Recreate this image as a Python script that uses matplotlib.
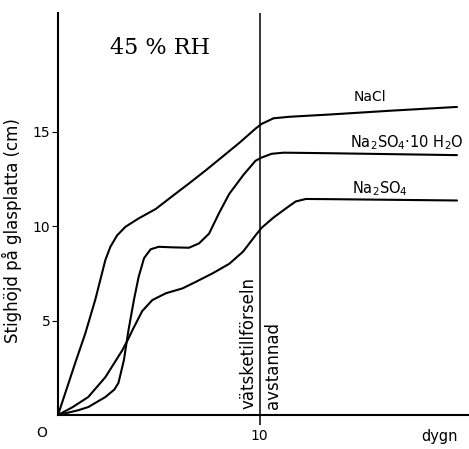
import matplotlib
matplotlib.use("Agg")
import matplotlib.pyplot as plt

# Rise height on glass plate (cm) versus time (days), 45 % RH
nacl_x = [0, 0.9, 1.35, 1.85, 2.35, 2.6, 2.93, 3.35, 4.0, 4.85, 5.7, 6.5, 7.35, 8.2, 9.0, 9.8,
          10.1, 10.7, 11.5, 13.5, 16.5, 19.8]
nacl_y = [0, 2.9, 4.3, 6.1, 8.2, 8.9, 9.5, 9.96, 10.4, 10.9, 11.6, 12.25, 12.96, 13.7, 14.4, 15.15,
          15.4, 15.7, 15.78, 15.9, 16.1, 16.3]

deca_x = [0, 1.0, 1.5, 2.35, 2.8, 3.0, 3.27, 3.5, 3.77, 4.0, 4.27, 4.6, 5.0, 5.7, 6.5, 7.0, 7.5,
          8.0, 8.5, 9.2, 9.8, 10.1, 10.6, 11.2, 13.5, 19.8]
deca_y = [0, 0.25, 0.42, 0.95, 1.35, 1.7, 2.9, 4.5, 6.1, 7.3, 8.3, 8.77, 8.9, 8.87, 8.85, 9.08, 9.6,
          10.7, 11.7, 12.7, 13.45, 13.62, 13.82, 13.88, 13.85, 13.75]

anh_x = [0, 0.7, 1.5, 2.35, 3.2, 3.5, 3.7, 4.18, 4.68, 5.35, 6.18, 6.85, 7.68, 8.5, 9.18, 9.8,
         10.1, 10.7, 11.4, 11.8, 12.3, 13.5, 19.8]
anh_y = [0, 0.4, 0.95, 2.0, 3.44, 4.05, 4.5, 5.5, 6.08, 6.44, 6.7, 7.05, 7.5, 8.0, 8.64, 9.5,
         9.9, 10.45, 11.0, 11.3, 11.43, 11.42, 11.35]

y_ticks = [5, 10, 15]
y_tick_labels = ["5", "10", "15"]
x_ticks = [10]
x_tick_labels = ["10"]

px_per_day = 20.15
px_per_cm = 18.9

fig = plt.figure(figsize=(4.69, 4.49), dpi=100)
ax = fig.add_axes([58 / 469, 34 / 449, 411 / 469, 402 / 449])

lw = 1.5
for xs, ys in ((nacl_x, nacl_y), (deca_x, deca_y), (anh_x, anh_y)):
    ax.plot(xs, ys, color="black", lw=lw, solid_joinstyle="round", solid_capstyle="round")

ax.axvline(10, color="black", lw=1.1)

ax.set_xlim(0, 411 / px_per_day)
ax.set_ylim(0, 402 / px_per_cm)

for side in ("top", "right"):
    ax.spines[side].set_visible(False)
for side in ("left", "bottom"):
    ax.spines[side].set_linewidth(1.5)

ax.set_yticks(y_ticks)
ax.set_yticklabels(y_tick_labels)
ax.set_xticks(x_ticks)
ax.set_xticklabels(x_tick_labels)
ax.tick_params(axis="y", direction="out", length=4, width=0.8, pad=1.5, labelsize=10)
ax.tick_params(axis="x", direction="out", length=7, width=1.1, pad=3, labelsize=10)

ax.text(-0.8, -0.95, "O", ha="center", va="center", fontsize=10, clip_on=False)
ax.text(18.95, -1.15, "dygn", ha="center", va="center", fontsize=10.5, clip_on=False)

fig.text(12 / 469, 1 - 231 / 449, "Stighöjd på glasplatta (cm)", rotation=90,
         ha="center", va="center", fontsize=12)

ax.text(5.05, 19.4, "45 % RH", ha="center", va="center", fontsize=16,
        fontfamily="DejaVu Serif")

ax.text(15.5, 16.8, "NaCl", ha="center", va="center", fontsize=10)
ax.text(17.3, 14.4, r"Na$_2$SO$_4$·10 H$_2$O", ha="center", va="center", fontsize=10.5)
ax.text(16.0, 12.0, r"Na$_2$SO$_4$", ha="center", va="center", fontsize=10.5)

ax.text(9.45, 0.3, "vätsketillförseln", rotation=90, ha="center", va="bottom", fontsize=12)
ax.text(10.65, 0.3, "avstannad", rotation=90, ha="center", va="bottom", fontsize=12)

fig.savefig("out.png", dpi=100)
